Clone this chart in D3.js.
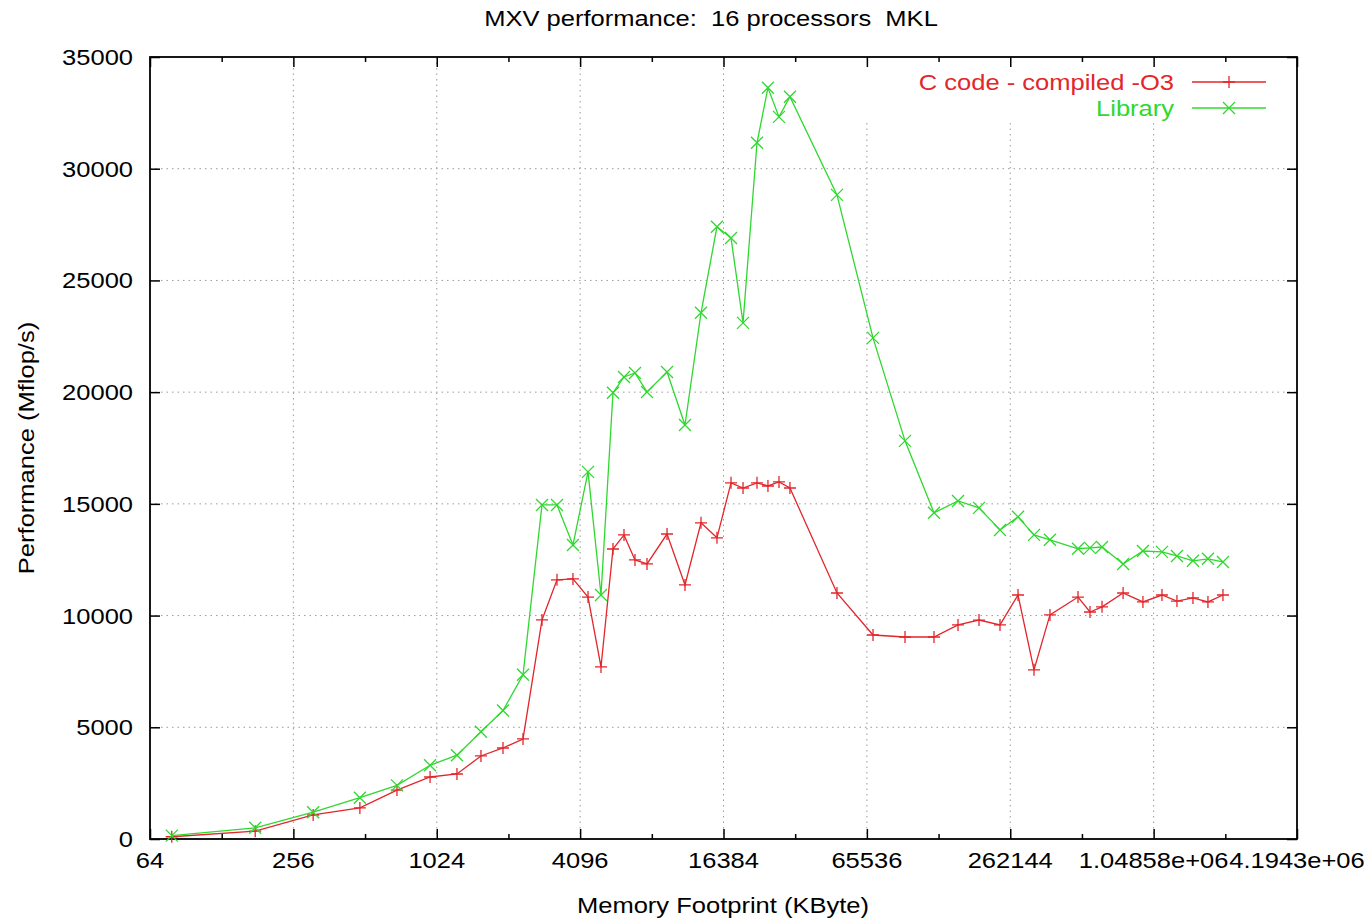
<!DOCTYPE html>
<html>
<head>
<meta charset="utf-8">
<script src="https://cdn.jsdelivr.net/npm/d3@7"></script>
<style>
  body { margin: 0; background: #fff; }
  svg { display: block; }
  text { font-family: "Liberation Sans", Arial, sans-serif; white-space: pre; }
</style>
</head>
<body>
<svg id="chart" width="1372" height="923"></svg>
<script>
// ---- data ----
const footprintKB = [79, 177, 310, 487, 697, 960, 1245, 1570, 1943, 2358,
  2833, 3275, 3822, 4421, 5012, 5628, 6260, 6962, 7820, 9490,
  11290, 13180, 15380, 17620, 19790, 22650, 25180, 28020, 31150, 49080,
  69540, 94760, 125400, 158200, 193800, 237400, 282600, 329800, 384900, 504700,
  566800, 636700, 780600, 945500, 1136700, 1314000, 1534000, 1773000, 2050000];
const cCode = [100, 350, 1075, 1390, 2190, 2775, 2910, 3716, 4074, 4477,
  9805, 11600, 11640, 10830, 7700, 12980, 13610, 12490, 12310, 13650,
  11370, 14150, 13480, 15940, 15710, 15940, 15800, 15980, 15710, 11010,
  9130, 9040, 9040, 9580, 9800, 9580, 10920, 7570, 10030, 10830,
  10160, 10390, 11010, 10610, 10920, 10650, 10790, 10610, 10920];
const library = [150, 500, 1200, 1850, 2400, 3300, 3750, 4800, 5750, 7350,
  14950, 14950, 13160, 16430, 10920, 19970, 20680, 20860, 20010, 20900,
  18530, 23550, 27400, 26900, 23100, 31160, 33620, 32320, 33220, 28830,
  22430, 17820, 14600, 15130, 14820, 13830, 14420, 13610, 13390, 12990,
  13030, 13070, 12310, 12890, 12850, 12670, 12450, 12540, 12400];
const xMajorTicks = [64, 256, 1024, 4096, 16384, 65536, 262144, 1048576, 4194304];
const xMajorLabels = ["64", "256", "1024", "4096", "16384", "65536", "262144", "1.04858e+06", "4.1943e+06"];
const xMinorTicks = [128, 512, 2048, 8192, 32768, 131072, 524288, 2097152];
const yTicks = [0, 5000, 10000, 15000, 20000, 25000, 30000, 35000];
const seriesNames = ["C code - compiled -O3", "Library"];
const seriesColors = ["#e2262b", "#2fd82f"];

// ---- layout ----
const L = 150, R = 1297, T = 57, B = 839;
const svg = d3.select("#chart");
const x = d3.scaleLog().base(2).domain([64, 4194304]).range([L, R]);
const y = d3.scaleLinear().domain([0, 35000]).range([B, T]);
const SX = 1.16;
function label(g, tx, ty, str, anchor, size, color, rot) {
  const t = g.append("g").attr("transform", `translate(${tx},${ty})` + (rot ? ` rotate(${rot})` : "") + ` scale(${SX},1)`)
    .append("text").attr("xml:space", "preserve").attr("text-anchor", anchor).attr("font-size", size)
    .attr("fill", color || "#000").text(str);
  return t;
}

// grid
const grid = svg.append("g");
grid.selectAll(".gx").data(xMajorTicks.slice(1, -1)).join("line")
  .attr("x1", d => x(d)).attr("x2", d => x(d)).attr("y1", T).attr("y2", B)
  .attr("stroke", "#9a9a9a").attr("stroke-width", 1).attr("stroke-dasharray", "1.5,4");
grid.selectAll(".gy").data(yTicks.slice(1, -1)).join("line")
  .attr("x1", L).attr("x2", R).attr("y1", d => y(d)).attr("y2", d => y(d))
  .attr("stroke", "#9a9a9a").attr("stroke-width", 1).attr("stroke-dasharray", "1.5,4");
// legend area masks the grid
svg.append("rect").attr("x", 862).attr("y", T + 1).attr("width", R - 862 - 1).attr("height", 64).attr("fill", "#fff");

// ticks (inward on all four sides)
const axB = d3.axisBottom(x).tickValues(xMajorTicks).tickFormat("").tickSizeInner(-10).tickSizeOuter(0);
const axBm = d3.axisBottom(x).tickValues(xMinorTicks).tickFormat("").tickSizeInner(-5).tickSizeOuter(0);
const axT = d3.axisTop(x).tickValues(xMajorTicks).tickFormat("").tickSizeInner(-10).tickSizeOuter(0);
const axTm = d3.axisTop(x).tickValues(xMinorTicks).tickFormat("").tickSizeInner(-5).tickSizeOuter(0);
const axL = d3.axisLeft(y).tickValues(yTicks).tickFormat("").tickSizeInner(-10).tickSizeOuter(0);
const axR = d3.axisRight(y).tickValues(yTicks).tickFormat("").tickSizeInner(-10).tickSizeOuter(0);
[[axB, `translate(0,${B})`], [axBm, `translate(0,${B})`], [axT, `translate(0,${T})`], [axTm, `translate(0,${T})`],
 [axL, `translate(${L},0)`], [axR, `translate(${R},0)`]].forEach(([a, tr]) => {
  const g = svg.append("g").attr("transform", tr).call(a);
  g.select(".domain").remove();
  g.selectAll(".tick line").attr("stroke", "#000").attr("stroke-width", 1.5);
});

// frame
svg.append("rect").attr("x", L).attr("y", T).attr("width", R - L).attr("height", B - T)
  .attr("fill", "none").attr("stroke", "#000").attr("stroke-width", 1.8);

// tick labels
const labs = svg.append("g");
xMajorTicks.forEach((d, i) => label(labs, x(d), 868, xMajorLabels[i], "middle", 22));
yTicks.forEach(d => label(labs, 133, y(d) + 8, String(d), "end", 22));

// title & axis labels
label(svg, 711, 26, "MXV performance:  16 processors  MKL", "middle", 22);
label(svg, 723, 913, "Memory Footprint (KByte)", "middle", 22);
label(svg, 34, 448, "Performance (Mflop/s)", "middle", 22, "#000", -90);

// series
const series = [cCode, library];
const line = d3.line().x(d => x(d[0])).y(d => y(d[1]));
function plus(g, cx, cy, c) {
  g.append("path").attr("d", `M${cx - 6},${cy}H${cx + 6}M${cx},${cy - 6}V${cy + 6}`)
    .attr("stroke", c).attr("stroke-width", 1.3).attr("fill", "none");
}
function cross(g, cx, cy, c) {
  g.append("path").attr("d", `M${cx - 6},${cy - 6}L${cx + 6},${cy + 6}M${cx - 6},${cy + 6}L${cx + 6},${cy - 6}`)
    .attr("stroke", c).attr("stroke-width", 1.3).attr("fill", "none");
}
const markers = [plus, cross];
series.forEach((vals, si) => {
  const pts = footprintKB.map((k, i) => [k, vals[i]]);
  const g = svg.append("g");
  g.append("path").datum(pts).attr("d", line).attr("fill", "none")
    .attr("stroke", seriesColors[si]).attr("stroke-width", 1.3);
  pts.forEach(p => markers[si](g, x(p[0]), y(p[1]), seriesColors[si]));
});

// legend
seriesNames.forEach((n, i) => {
  const ly = 82 + i * 26;
  label(svg, 1174, ly + 8, n, "end", 22, seriesColors[i]);
  svg.append("line").attr("x1", 1192).attr("x2", 1266).attr("y1", ly).attr("y2", ly)
    .attr("stroke", seriesColors[i]).attr("stroke-width", 1.3);
  markers[i](svg, 1229, ly, seriesColors[i]);
});
</script>
</body>
</html>
